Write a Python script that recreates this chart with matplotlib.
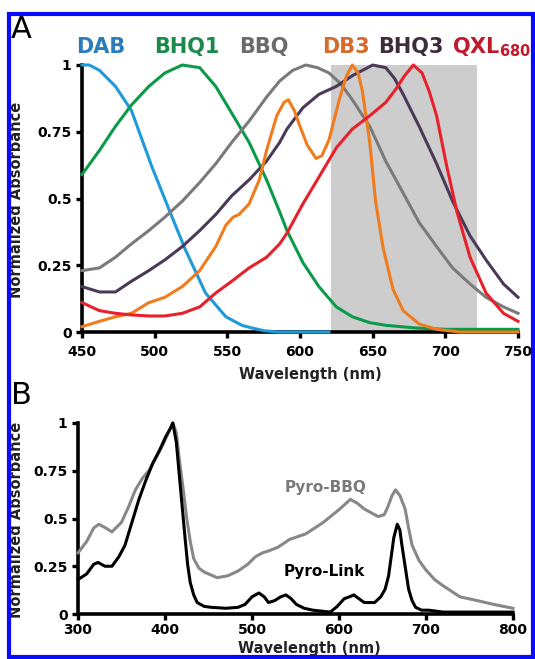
import matplotlib
matplotlib.use("Agg")
import matplotlib.pyplot as plt
from matplotlib.patches import Rectangle

# ---- panel A: quencher absorbance spectra ----
dab_wl = [450, 455, 462, 473, 484, 498, 512, 521, 535, 549, 560, 567, 575, 585, 620]
dab_abs = [1.0, 1.0, 0.98, 0.92, 0.83, 0.62, 0.43, 0.31, 0.146, 0.057, 0.025, 0.015, 0.005, 0.0, 0.0]

bhq1_wl = [450, 462, 473, 484, 496, 507, 519, 531, 542, 553, 565, 577, 586, 591, 602,
           613, 625, 636, 648, 659, 680, 700, 750]
bhq1_abs = [0.59, 0.68, 0.77, 0.85, 0.92, 0.97, 1.0, 0.99, 0.92, 0.82, 0.71, 0.57, 0.45, 0.38, 0.26,
            0.17, 0.094, 0.057, 0.035, 0.025, 0.015, 0.01, 0.01]

bbq_wl = [450, 462, 473, 484, 496, 507, 519, 531, 542, 553, 565, 577, 586, 595, 604,
          612, 620, 628, 636, 648, 659, 671, 682, 694, 705, 717, 728, 740, 750]
bbq_abs = [0.23, 0.24, 0.28, 0.33, 0.38, 0.43, 0.49, 0.56, 0.63, 0.71, 0.79, 0.88, 0.94, 0.98, 1.0,
           0.99, 0.97, 0.93, 0.87, 0.77, 0.64, 0.52, 0.41, 0.32, 0.24, 0.18, 0.13, 0.094, 0.07]

db3_wl = [450, 462, 473, 484, 496, 507, 519, 531, 542, 549, 554, 558, 565, 572, 577, 584,
          589, 592, 596, 600, 605, 611, 615, 620, 627, 632, 636, 640, 643, 648, 652, 657,
          664, 671, 682, 694, 710, 750]
db3_abs = [0.02, 0.04, 0.057, 0.07, 0.11, 0.13, 0.17, 0.23, 0.32, 0.40, 0.43, 0.44, 0.48, 0.57, 0.68, 0.81,
           0.86, 0.87, 0.83, 0.77, 0.70, 0.65, 0.66, 0.72, 0.87, 0.96, 1.0, 0.97, 0.90, 0.71, 0.49, 0.32,
           0.16, 0.08, 0.03, 0.01, 0.0, 0.0]

bhq3_wl = [450, 462, 473, 484, 496, 507, 519, 531, 542, 553, 565, 577, 586, 591, 602,
           613, 625, 636, 643, 650, 659, 665, 671, 682, 694, 705, 717, 728, 740, 750]
bhq3_abs = [0.17, 0.15, 0.15, 0.19, 0.23, 0.27, 0.32, 0.38, 0.44, 0.51, 0.57, 0.64, 0.71, 0.76, 0.84,
            0.89, 0.92, 0.96, 0.98, 1.0, 0.99, 0.95, 0.89, 0.77, 0.63, 0.49, 0.36, 0.27, 0.18, 0.13]

qxl_wl = [450, 462, 473, 484, 496, 507, 519, 531, 542, 553, 565, 577, 586, 591, 602,
          613, 625, 636, 648, 659, 666, 672, 678, 684, 689, 694, 701, 708, 717, 728, 740, 750]
qxl_abs = [0.11, 0.08, 0.07, 0.064, 0.06, 0.06, 0.07, 0.094, 0.146, 0.19, 0.24, 0.28, 0.33, 0.37, 0.48,
           0.58, 0.69, 0.76, 0.81, 0.86, 0.91, 0.96, 1.0, 0.97, 0.90, 0.81, 0.62, 0.45, 0.28, 0.146, 0.07, 0.04]

window_nm = (621, 722)

# ---- panel B: pyropheophorbide constructs ----
pbbq_wl = [300, 310, 318, 324, 332, 339, 350, 358, 366, 374, 382, 390, 398, 405, 409, 413,
           417, 421, 425, 429, 433, 439, 445, 460, 472, 484, 495, 504, 512, 519, 530, 543,
           562, 582, 601, 613, 621, 629, 645, 652, 656, 661, 665, 670, 676, 680, 684, 692,
           700, 710, 719, 729, 739, 749, 759, 778, 800]
pbbq_abs = [0.32, 0.38, 0.45, 0.47, 0.45, 0.43, 0.48, 0.56, 0.65, 0.71, 0.755, 0.82, 0.89, 0.96, 1.0, 0.95,
            0.79, 0.65, 0.50, 0.38, 0.29, 0.24, 0.22, 0.19, 0.20, 0.225, 0.26, 0.30, 0.32, 0.33, 0.35, 0.39,
            0.42, 0.48, 0.55, 0.60, 0.58, 0.55, 0.51, 0.52, 0.56, 0.62, 0.65, 0.62, 0.55, 0.45, 0.36, 0.28,
            0.23, 0.18, 0.15, 0.12, 0.09, 0.08, 0.07, 0.05, 0.03]

plink_wl = [300, 310, 318, 323, 331, 339, 347, 354, 362, 370, 378, 386, 394, 401, 406, 409,
            413, 417, 420, 423, 426, 429, 433, 437, 445, 453, 470, 484, 492, 500, 508, 514,
            519, 526, 533, 539, 545, 551, 560, 570, 580, 590, 598, 606, 612, 617, 623, 629,
            641, 648, 653, 657, 660, 663, 667, 670, 672, 676, 680, 684, 688, 695, 703, 720,
            750, 800]
plink_abs = [0.18, 0.21, 0.26, 0.27, 0.25, 0.25, 0.30, 0.36, 0.48, 0.60, 0.70, 0.79, 0.86, 0.93, 0.97, 1.0,
             0.90, 0.70, 0.55, 0.40, 0.26, 0.165, 0.10, 0.06, 0.04, 0.035, 0.03, 0.035, 0.05, 0.09, 0.11, 0.09,
             0.06, 0.07, 0.09, 0.10, 0.08, 0.05, 0.03, 0.02, 0.015, 0.01, 0.04, 0.08, 0.09, 0.10, 0.08, 0.06,
             0.06, 0.09, 0.13, 0.20, 0.30, 0.40, 0.47, 0.44, 0.37, 0.25, 0.13, 0.07, 0.035, 0.02, 0.02, 0.01,
             0.01, 0.01]

ytick_vals = [0, 0.25, 0.5, 0.75, 1]
ytick_text = ["0", "0.25", "0.5", "0.75", "1"]
xticks_a = [450, 500, 550, 600, 650, 700, 750]
xticks_b = [300, 400, 500, 600, 700, 800]

W, H = 535, 659


def fx(px):
    return px / W


def fy(py):
    return 1 - py / H


def style_axes(ax, xticks, xpad):
    for side in ("top", "right"):
        ax.spines[side].set_visible(False)
    for side in ("left", "bottom"):
        ax.spines[side].set_linewidth(2.6)
    ax.set_xticks(xticks)
    ax.set_xticklabels([str(t) for t in xticks])
    ax.set_yticks(ytick_vals)
    ax.set_yticklabels(ytick_text)
    ax.tick_params(direction="out", length=4.5, width=2.4, labelsize=10)
    ax.tick_params(axis="x", pad=xpad)
    ax.tick_params(axis="y", pad=3)
    for lab in ax.get_xticklabels() + ax.get_yticklabels():
        lab.set_fontweight("bold")
    ax.set_ylim(0, 1)


fig = plt.figure(figsize=(W / 100, H / 100), dpi=100)

# panel A
axA = fig.add_axes([fx(82), fy(332), fx(518) - fx(82), fy(65) - fy(332)])
axA.axvspan(*window_nm, ymin=0, ymax=1.01, color="#cdcdcd", lw=0, zorder=0)
curves = [
    (dab_wl, dab_abs, "#1f9ad8"),
    (bhq1_wl, bhq1_abs, "#0c9a4a"),
    (bbq_wl, bbq_abs, "#7a7a7a"),
    (bhq3_wl, bhq3_abs, "#4b3a57"),
    (db3_wl, db3_abs, "#f07c1e"),
    (qxl_wl, qxl_abs, "#e8202c"),
]
for wl, ab, col in curves:
    axA.plot(wl, ab, color=col, lw=2.2, clip_on=False, zorder=3)
axA.set_xlim(450, 750)
style_axes(axA, xticks_a, 5)

# panel B
axB = fig.add_axes([fx(78), fy(614), fx(513) - fx(78), fy(423) - fy(614)])
axB.plot(pbbq_wl, pbbq_abs, color="#888888", lw=2.2, clip_on=False, zorder=3)
axB.plot(plink_wl, plink_abs, color="black", lw=2.2, clip_on=False, zorder=4)
axB.set_xlim(300, 800)
style_axes(axB, xticks_b, 2)
axB.text(585, 0.66, "Pyro-BBQ", color="#7a7a7a", fontsize=11, fontweight="bold",
         ha="center", va="center")
axB.text(583, 0.22, "Pyro-Link", color="black", fontsize=11, fontweight="bold",
         ha="center", va="center")

# axis titles
lab_kw = dict(fontsize=10.5, fontweight="bold", color="#222222")
fig.text(fx(17), fy(200), "Normalized Absorbance", rotation=90, ha="center", va="center", **lab_kw)
fig.text(fx(17), fy(520), "Normalized Absorbance", rotation=90, ha="center", va="center", **lab_kw)
fig.text(fx(310), fy(374), "Wavelength (nm)", ha="center", va="center", **lab_kw)
fig.text(fx(309), fy(649), "Wavelength (nm)", ha="center", va="center", **lab_kw)

# panel letters
fig.text(fx(11), fy(29), "A", fontsize=22, ha="left", va="center")
fig.text(fx(11), fy(396), "B", fontsize=22, ha="left", va="center")

# dye names across the top of panel A
names = [
    ("DAB", 101, "#2a7cbf"),
    ("BHQ1", 187, "#1a8a4c"),
    ("BBQ", 264, "#6a6a6a"),
    ("DB3", 346, "#d56a2a"),
    ("BHQ3", 411, "#3d2c3d"),
]
for txt, cx, col in names:
    fig.text(fx(cx), fy(47), txt, color=col, fontsize=15, fontweight="bold",
             ha="center", va="center")
fig.text(fx(452), fy(47), r"QXL$_{\mathbf{680}}$", color="#c01a2c", fontsize=15,
         fontweight="bold", ha="left", va="center")

# blue frame around the whole figure
fig.patches.append(Rectangle((fx(9), fy(657)), fx(533) - fx(9), fy(14) - fy(657),
                             transform=fig.transFigure, fill=False,
                             edgecolor="#0a0aff", lw=3, zorder=10))

fig.savefig("out.png", dpi=100)
